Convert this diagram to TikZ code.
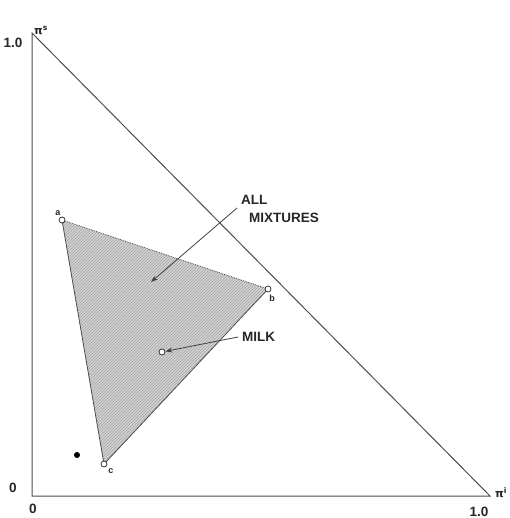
\documentclass[tikz,border=0pt]{standalone}
\usepackage{fontspec}
\setsansfont{Liberation Sans}
\newfontfamily\grk{DejaVu Sans}
\usetikzlibrary{arrows.meta,patterns}
\begin{document}
\begin{tikzpicture}[x=1pt,y=-1pt,
  axis/.style={draw=black!70, line width=1pt},
  lbl/.style={font=\sffamily\bfseries\fontsize{13.5}{14}\selectfont, text=black!85, inner sep=0pt},
  small/.style={font=\sffamily\bfseries\fontsize{9}{10}\selectfont, text=black!85, inner sep=0pt},
  pil/.style={font=\grk\bfseries\fontsize{11}{12}\selectfont, text=black!85, inner sep=0pt},
  pt/.style={circle, draw=black!80, fill=white, line width=0.8pt, minimum size=6pt, inner sep=0pt},
  arr/.style={draw=black!75, line width=0.8pt, -{Stealth[length=7pt,width=5pt]}}]
\useasboundingbox (0,0) rectangle (509,518);
\coordinate (O) at (32,496);
\coordinate (Y) at (32,33);
\coordinate (X) at (490,496);
\draw[axis] (Y) -- (O) -- (X) -- cycle;
% triangle
\coordinate (A) at (62,220);
\coordinate (B) at (268,289);
\coordinate (C) at (104,464);
\fill[gray!35] (A) -- (B) -- (C) -- cycle;
\fill[pattern=north east lines, pattern color=gray!70] (A) -- (B) -- (C) -- cycle;
\draw[black!70, line width=0.8pt, densely dotted] (A) -- (B);
\draw[black!70, line width=0.8pt] (B) -- (C) -- (A);
\node[pt] (a) at (A) {};
\node[pt] (b) at (B) {};
\node[pt] (c) at (C) {};
\node[pt] (m) at (162,352) {};
\fill[black] (77,455) circle (3pt);
% vertex labels
\node[small] at (58,213) {a};
\node[small] at (272,298) {b};
\node[small] at (111,471) {c};
% axis labels
\node[lbl] at (13,43) {1.0};
\node[pil] at (41,30) {π\textsuperscript{s}};
\node[lbl] at (13,488) {0};
\node[lbl] at (33,509) {0};
\node[lbl] at (479,512) {1.0};
\node[pil] at (501,493) {π\textsuperscript{i}};
% labels with arrows
\node[lbl, anchor=west] (all) at (241,200) {ALL};
\node[lbl, anchor=west] (mix) at (249,218) {MIXTURES};
\coordinate (allstart) at (237,208);
\draw[arr] (allstart) -- (151,282);
\node[lbl, anchor=west] (milk) at (242,337) {MILK};
\coordinate (milkstart) at (238,337);
\draw[arr] (milkstart) -- (m);
\end{tikzpicture}
\end{document}
